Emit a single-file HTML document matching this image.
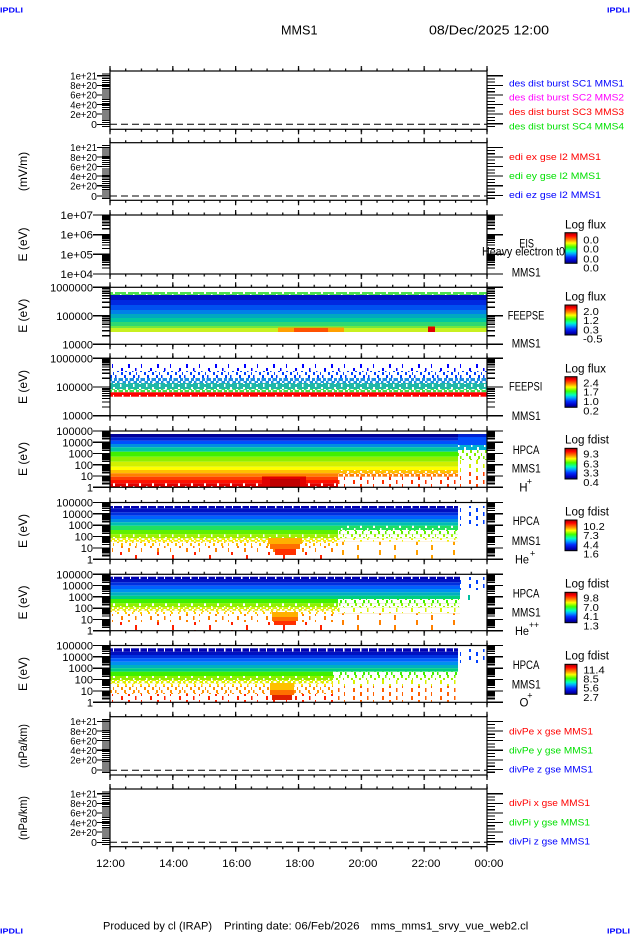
<!DOCTYPE html>
<html><head><meta charset="utf-8"><title>MMS1 summary</title>
<style>
html,body{margin:0;padding:0;background:#fff;}
svg{display:block;}
</style></head><body>
<svg width="630" height="934" viewBox="0 0 630 934" xmlns="http://www.w3.org/2000/svg" xmlns:xlink="http://www.w3.org/1999/xlink" font-family="'Liberation Sans', sans-serif">
<defs>
<pattern id="tmin" x="109.4" y="0" width="15.708" height="10" patternUnits="userSpaceOnUse"><rect x="0" y="0" width="1.2" height="10" fill="#000"/></pattern>
<pattern id="tmaj" x="109.4" y="0" width="62.833" height="10" patternUnits="userSpaceOnUse"><rect x="0" y="0" width="1.2" height="10" fill="#000"/></pattern>
<pattern id="sp1" width="23" height="9" patternUnits="userSpaceOnUse"><path fill="#fff" d="M0 0h2v3h-2zM4 0h6v3h-6zM12 0h5v3h-5zM18.5 0h4.5v3h-4.5zM0 3h6v3h-6zM8 3h6v3h-6zM16 3h5v3h-5zM22 3h1v3h-1zM1.5 6h7.5v3h-7.5zM11 6h7v3h-7zM20 6h3v3h-3z"/></pattern>
<pattern id="sp2" width="29" height="8" patternUnits="userSpaceOnUse"><path fill="#fff" d="M0 0h5v4h-5zM7 0h12v4h-12zM20.5 0h8.5v4h-8.5zM0 4h12v4h-12zM14 4h11v4h-11zM26 4h3v4h-3z"/></pattern>
<pattern id="sp4" width="37" height="10" patternUnits="userSpaceOnUse"><path fill="#fff" d="M0 0h9v5h-9zM11 0h26v5h-26zM0 5h24v5h-24zM26 5h11v5h-11z"/></pattern>
<pattern id="gap" width="13" height="6" patternUnits="userSpaceOnUse"><path fill="#fff" d="M3 0h1.5v3h-1.5zM9 3h2v3h-2z"/></pattern>
<pattern id="half" width="11" height="6" patternUnits="userSpaceOnUse"><path fill="#fff" d="M2 0h2v3h-2zM7 0h1.5v3h-1.5zM0 3h1.5v3h-1.5zM5 3h2v3h-2zM9.5 3h1.5v3h-1.5z"/></pattern>
<pattern id="notch" width="17" height="4" patternUnits="userSpaceOnUse"><path fill="#fff" d="M3 0h1.5v4h-1.5zM11 0h1v4h-1z"/></pattern>
<linearGradient id="cb" x1="0" y1="0" x2="0" y2="1">
<stop offset="0" stop-color="#a00000"/>
<stop offset="0.1" stop-color="#ff0000"/>
<stop offset="0.24" stop-color="#ff8c00"/>
<stop offset="0.34" stop-color="#ffff00"/>
<stop offset="0.47" stop-color="#40ff00"/>
<stop offset="0.6" stop-color="#00ffc0"/>
<stop offset="0.68" stop-color="#00b0ff"/>
<stop offset="0.8" stop-color="#0030ff"/>
<stop offset="0.92" stop-color="#0000c0"/>
<stop offset="1" stop-color="#000070"/>
</linearGradient>
<path id="d20" d="M0 -5.92h8M0 -9.39h8M0 -11.84h8M0 -13.75h8M0 -15.31h8M0 -16.62h8M0 -17.76h8M0 -18.77h8"/>
<path id="d28" d="M0 -8.61h8M0 -13.65h8M0 -17.22h8M0 -19.99h8M0 -22.26h8M0 -24.17h8M0 -25.83h8M0 -27.29h8"/>
<path id="d11" d="M0 -3.40h8M0 -5.39h8M0 -6.80h8M0 -7.90h8M0 -8.79h8M0 -9.55h8M0 -10.20h8M0 -10.78h8"/>
<path id="linL" d="M102 3h8M102 5.1h8M102 7.2h8M102 9.3h8M102 11.4h8M102 13.5h8M102 15.6h8M102 17.7h8M102 19.8h8M102 21.9h8M102 24h8M102 26.1h8M102 28.2h8M102 30.3h8M102 32.4h8M102 34.5h8M102 36.6h8M102 38.7h8M102 40.8h8M102 42.9h8M102 45h8M102 47.1h8M102 49.2h8M102 51.3h8M102 55.5h8M97 4.7h13M97 14.3h13M97 23.9h13M97 33.5h13M97 43.1h13M97 53.3h13"/>
<path id="linR" d="M487 4.7h16M487 14.3h16M487 23.9h16M487 33.5h16M487 43.1h16M487 52.7h16M487 7.9h8M487 11.1h8M487 17.5h8M487 20.7h8M487 27.1h8M487 30.3h8M487 36.7h8M487 39.9h8M487 46.3h8M487 49.5h8M487 55.5h8"/>
</defs>

<!-- header -->
<text x="0" y="12.5" font-size="7.5" font-weight="bold" fill="#0000ff" textLength="23" lengthAdjust="spacingAndGlyphs">IPDLI</text>
<text x="607" y="12.5" font-size="7.5" font-weight="bold" fill="#0000ff" textLength="23" lengthAdjust="spacingAndGlyphs">IPDLI</text>
<text x="281" y="34.3" font-size="12.7" textLength="36.5" lengthAdjust="spacingAndGlyphs">MMS1</text>
<text x="429" y="34.3" font-size="12.7" textLength="120" lengthAdjust="spacingAndGlyphs">08/Dec/2025 12:00</text>

<!-- ===== Spectrogram data ===== -->
<!-- FEEPSE -->
<g>
<rect x="110.5" y="292" width="376.5" height="3" fill="#50e050"/>
<rect x="110.5" y="292" width="376.5" height="3" fill="url(#gap)"/>
<rect x="110.5" y="295" width="376.5" height="5" fill="#0010c0"/>
<rect x="110.5" y="300" width="376.5" height="5" fill="#0028e0"/>
<rect x="110.5" y="305" width="376.5" height="5" fill="#0050f0"/>
<rect x="110.5" y="310" width="376.5" height="4" fill="#0080e8"/>
<rect x="110.5" y="314" width="376.5" height="4" fill="#00a8c0"/>
<rect x="110.5" y="318" width="376.5" height="4" fill="#00c8a0"/>
<rect x="110.5" y="322" width="376.5" height="4" fill="#30d870"/>
<rect x="110.5" y="326" width="376.5" height="2" fill="#70e840"/>
<rect x="110.5" y="328" width="376.5" height="4" fill="#c8f020"/>
<rect x="278" y="327.5" width="66" height="4.5" fill="#ffa000"/>
<rect x="294" y="328" width="34" height="4" fill="#ff5000"/>
<rect x="428" y="326.5" width="7" height="5.5" fill="#e00000"/>
</g>
<!-- FEEPSI -->
<g>
<rect x="110.5" y="364" width="376.5" height="7" fill="#0000ff"/>
<rect x="110.5" y="364" width="376.5" height="7" fill="url(#sp2)"/>
<rect x="110.5" y="371" width="376.5" height="7" fill="#0040ff"/>
<rect x="110.5" y="371" width="376.5" height="7" fill="url(#sp1)"/>
<rect x="110.5" y="378" width="376.5" height="5" fill="#2090e0"/>
<rect x="110.5" y="378" width="376.5" height="5" fill="url(#half)"/>
<rect x="110.5" y="383" width="376.5" height="6" fill="#20b8a8"/>
<rect x="110.5" y="383" width="376.5" height="6" fill="url(#gap)"/>
<rect x="110.5" y="389" width="376.5" height="3.3" fill="#40e050"/>
<rect x="110.5" y="389" width="376.5" height="3.3" fill="url(#half)"/>
<rect x="110.5" y="392.3" width="376.5" height="4.4" fill="#ff0000"/>
<rect x="110.5" y="395" width="376.5" height="1.7" fill="url(#notch)"/>
</g>
<!-- HPCA H+ -->
<g>
<rect x="110.5" y="434" width="347.5" height="3.3" fill="#000098"/>
<rect x="110.5" y="437.3" width="347.5" height="3.4" fill="#0020d0"/>
<rect x="110.5" y="440.7" width="347.5" height="3.3" fill="#0050ff"/>
<rect x="110.5" y="444" width="347.5" height="3.3" fill="#0090e0"/>
<rect x="110.5" y="447.3" width="347.5" height="4.4" fill="#00c8a0"/>
<rect x="110.5" y="451.7" width="347.5" height="5" fill="#40f000"/>
<rect x="110.5" y="456.7" width="347.5" height="5" fill="#90f000"/>
<rect x="110.5" y="461.7" width="347.5" height="5" fill="#d0f000"/>
<rect x="110.5" y="466.7" width="347.5" height="3.3" fill="#ffff00"/>
<rect x="110.5" y="470" width="347.5" height="3.3" fill="#ffc000"/>
<rect x="338" y="470" width="120" height="3.3" fill="url(#gap)"/>
<rect x="110.5" y="473.3" width="227.5" height="3.4" fill="#ff8000"/>
<rect x="110.5" y="476.7" width="227.5" height="3.3" fill="#ff4000"/>
<rect x="110.5" y="480" width="227.5" height="3.3" fill="#ff1000"/>
<rect x="110.5" y="483.3" width="227.5" height="3.7" fill="#e00000"/>
<rect x="110.5" y="483.3" width="227.5" height="3.7" fill="url(#gap)"/>
<rect x="338" y="473.3" width="120" height="3.4" fill="#ff8000"/>
<rect x="338" y="473.3" width="120" height="3.4" fill="url(#half)"/>
<rect x="338" y="476.7" width="120" height="10.3" fill="#ff3000"/>
<rect x="338" y="476.7" width="120" height="10.3" fill="url(#sp2)"/>
<rect x="262" y="476.5" width="44" height="10.5" fill="#e00000"/>
<rect x="270" y="479" width="30" height="8" fill="#c00000"/>
<rect x="458" y="434" width="29" height="3" fill="#0020d0"/>
<rect x="458" y="437" width="29" height="8" fill="#0050ff"/>
<rect x="458" y="445" width="29" height="5" fill="#00b0d0"/>
<rect x="458" y="445" width="29" height="5" fill="url(#gap)"/>
<rect x="458" y="450" width="29" height="10" fill="#80f000"/>
<rect x="458" y="450" width="29" height="10" fill="url(#sp1)"/>
<rect x="458" y="460" width="29" height="12" fill="#d0f000"/>
<rect x="458" y="460" width="29" height="12" fill="url(#sp2)"/>
<rect x="458" y="472" width="29" height="15" fill="#ff4000"/>
<rect x="458" y="472" width="29" height="15" fill="url(#sp2)"/>
</g>
<!-- HPCA He+ -->
<g>
<rect x="110.5" y="506" width="347.5" height="2.3" fill="#0000b0"/>
<rect x="110.5" y="506" width="347.5" height="2.3" fill="url(#notch)"/>
<rect x="110.5" y="508.3" width="347.5" height="4" fill="#0010c0"/>
<rect x="110.5" y="512.3" width="347.5" height="3.4" fill="#0030e0"/>
<rect x="110.5" y="515.7" width="347.5" height="3.3" fill="#0060ff"/>
<rect x="110.5" y="519" width="347.5" height="3.3" fill="#0090e0"/>
<rect x="110.5" y="522.3" width="347.5" height="3.4" fill="#00c0b0"/>
<rect x="110.5" y="525.7" width="347.5" height="4.3" fill="#20e060"/>
<rect x="338" y="525.7" width="120" height="4.3" fill="url(#gap)"/>
<rect x="110.5" y="530" width="227.5" height="4.3" fill="#60f000"/>
<rect x="110.5" y="534.3" width="227.5" height="4" fill="#a0f000"/>
<rect x="110.5" y="534.3" width="227.5" height="4" fill="url(#gap)"/>
<rect x="110.5" y="538.3" width="227.5" height="3.4" fill="#f0f000"/>
<rect x="110.5" y="538.3" width="227.5" height="3.4" fill="url(#half)"/>
<rect x="110.5" y="541.7" width="227.5" height="4.3" fill="#ffc000"/>
<rect x="110.5" y="541.7" width="227.5" height="4.3" fill="url(#sp1)"/>
<rect x="110.5" y="546" width="227.5" height="6" fill="#ff8000"/>
<rect x="110.5" y="546" width="227.5" height="6" fill="url(#sp2)"/>
<rect x="110.5" y="552" width="227.5" height="7" fill="#ff2000"/>
<rect x="110.5" y="552" width="227.5" height="7" fill="url(#sp4)"/>
<rect x="338" y="530" width="120" height="4.3" fill="#60f000"/>
<rect x="338" y="530" width="120" height="4.3" fill="url(#sp1)"/>
<rect x="338" y="534.3" width="120" height="4" fill="#a0f000"/>
<rect x="338" y="534.3" width="120" height="4" fill="url(#sp1)"/>
<rect x="338" y="538.3" width="120" height="3.4" fill="#f0f000"/>
<rect x="338" y="538.3" width="120" height="3.4" fill="url(#sp2)"/>
<rect x="338" y="541.7" width="120" height="17" fill="#ffa000"/>
<rect x="338" y="541.7" width="120" height="17" fill="url(#sp4)"/>
<rect x="268" y="538" width="34" height="6" fill="#ffb000"/>
<rect x="270" y="544" width="30" height="5" fill="#ff7000"/>
<rect x="275" y="549" width="21" height="6" fill="#ff3000"/>
<rect x="458" y="506" width="29" height="20" fill="#0040ff"/>
<rect x="458" y="506" width="29" height="20" fill="url(#sp2)"/>
</g>
<!-- HPCA He++ -->
<g>
<rect x="110.5" y="576.7" width="349.5" height="2.3" fill="#0000b0"/>
<rect x="110.5" y="576.7" width="349.5" height="2.3" fill="url(#notch)"/>
<rect x="110.5" y="579" width="349.5" height="3.3" fill="#0010c0"/>
<rect x="110.5" y="582.3" width="349.5" height="3.4" fill="#0030e0"/>
<rect x="110.5" y="585.7" width="349.5" height="3.3" fill="#0060ff"/>
<rect x="110.5" y="589" width="349.5" height="3.3" fill="#0090f0"/>
<rect x="110.5" y="592.3" width="349.5" height="3.4" fill="#00b0c0"/>
<rect x="110.5" y="595.7" width="349.5" height="3.3" fill="#00d080"/>
<rect x="110.5" y="599" width="227.5" height="4.3" fill="#40f000"/>
<rect x="110.5" y="603.3" width="227.5" height="4" fill="#90f000"/>
<rect x="110.5" y="603.3" width="227.5" height="4" fill="url(#gap)"/>
<rect x="110.5" y="607.3" width="227.5" height="3.4" fill="#d8f000"/>
<rect x="110.5" y="607.3" width="227.5" height="3.4" fill="url(#half)"/>
<rect x="110.5" y="610.7" width="227.5" height="3.3" fill="#ffd000"/>
<rect x="110.5" y="610.7" width="227.5" height="3.3" fill="url(#sp1)"/>
<rect x="110.5" y="614" width="227.5" height="8" fill="#ff8000"/>
<rect x="110.5" y="614" width="227.5" height="8" fill="url(#sp2)"/>
<rect x="110.5" y="622" width="227.5" height="8.5" fill="#ff2000"/>
<rect x="110.5" y="622" width="227.5" height="8.5" fill="url(#sp4)"/>
<rect x="338" y="599" width="122" height="4.3" fill="#40f000"/>
<rect x="338" y="599" width="122" height="4.3" fill="url(#sp1)"/>
<rect x="338" y="603.3" width="122" height="4" fill="#90f000"/>
<rect x="338" y="603.3" width="122" height="4" fill="url(#sp1)"/>
<rect x="338" y="607.3" width="122" height="6" fill="#d8f000"/>
<rect x="338" y="607.3" width="122" height="6" fill="url(#sp2)"/>
<rect x="338" y="613.3" width="122" height="17" fill="#ff8000"/>
<rect x="338" y="613.3" width="122" height="17" fill="url(#sp4)"/>
<rect x="272" y="612" width="26" height="5" fill="#ffb000"/>
<rect x="272" y="617" width="26" height="4" fill="#ff7000"/>
<rect x="274" y="621" width="22" height="4" fill="#ff3000"/>
<rect x="460" y="577" width="27" height="13" fill="#0040ff"/>
<rect x="460" y="577" width="27" height="13" fill="url(#sp2)"/>
<rect x="460" y="590" width="27" height="12" fill="#00c0a0"/>
<rect x="460" y="590" width="27" height="12" fill="url(#sp4)"/>
</g>
<!-- HPCA O+ -->
<g>
<rect x="110.5" y="648.3" width="347.5" height="3.4" fill="#0000b0"/>
<rect x="110.5" y="648.3" width="347.5" height="3.4" fill="url(#notch)"/>
<rect x="110.5" y="651.7" width="347.5" height="3.3" fill="#0010c0"/>
<rect x="110.5" y="655" width="347.5" height="3.3" fill="#0030e0"/>
<rect x="110.5" y="658.3" width="347.5" height="3.4" fill="#0060ff"/>
<rect x="110.5" y="661.7" width="347.5" height="3.3" fill="#0090f0"/>
<rect x="110.5" y="665" width="347.5" height="3.3" fill="#00b0c0"/>
<rect x="110.5" y="668.3" width="347.5" height="3.4" fill="#00d080"/>
<rect x="110.5" y="671.7" width="222.5" height="4.3" fill="#40f000"/>
<rect x="110.5" y="676" width="222.5" height="4" fill="#90f000"/>
<rect x="110.5" y="676" width="222.5" height="4" fill="url(#gap)"/>
<rect x="110.5" y="680" width="222.5" height="3.3" fill="#d8f000"/>
<rect x="110.5" y="680" width="222.5" height="3.3" fill="url(#half)"/>
<rect x="110.5" y="683.3" width="222.5" height="2.7" fill="#ffe000"/>
<rect x="110.5" y="683.3" width="222.5" height="2.7" fill="url(#sp1)"/>
<rect x="110.5" y="686" width="222.5" height="8" fill="#ff9000"/>
<rect x="110.5" y="686" width="222.5" height="8" fill="url(#sp1)"/>
<rect x="110.5" y="694" width="222.5" height="8.3" fill="#ff2000"/>
<rect x="110.5" y="694" width="222.5" height="8.3" fill="url(#sp2)"/>
<rect x="333" y="671.7" width="125" height="4.3" fill="#40f000"/>
<rect x="333" y="671.7" width="125" height="4.3" fill="url(#sp1)"/>
<rect x="333" y="676" width="125" height="4" fill="#90f000"/>
<rect x="333" y="676" width="125" height="4" fill="url(#sp1)"/>
<rect x="333" y="680" width="125" height="6" fill="#d8f000"/>
<rect x="333" y="680" width="125" height="6" fill="url(#sp2)"/>
<rect x="333" y="686" width="125" height="16" fill="#ff6000"/>
<rect x="333" y="686" width="125" height="16" fill="url(#sp2)"/>
<rect x="270" y="683" width="24" height="7" fill="#ffc000"/>
<rect x="270" y="690" width="24" height="5" fill="#ff7000"/>
<rect x="272" y="695" width="20" height="5" fill="#e02000"/>
<rect x="458" y="649" width="29" height="14" fill="#0040ff"/>
<rect x="458" y="649" width="29" height="14" fill="url(#sp2)"/>
</g>

<!-- ===== Frames ===== -->
<g fill="none" stroke="#000" stroke-width="1.2">
<rect x="110" y="71" width="377" height="58.3"/>
<rect x="110" y="142.7" width="377" height="57.6"/>
<rect x="110" y="215" width="377" height="59"/>
<rect x="110" y="287.3" width="377" height="57"/>
<rect x="110" y="358.3" width="377" height="57.4"/>
<rect x="110" y="431" width="377" height="56.3"/>
<rect x="110" y="502.5" width="377" height="56.8"/>
<rect x="110" y="574.3" width="377" height="56.4"/>
<rect x="110" y="645.5" width="377" height="56.8"/>
<rect x="110" y="716.7" width="377" height="58.3"/>
<rect x="110" y="789" width="377" height="57.7"/>
</g>
<!-- dashed zero lines -->
<g stroke="#000" stroke-width="1" stroke-dasharray="7 4">
<line x1="110" y1="124.3" x2="487" y2="124.3"/>
<line x1="110" y1="196" x2="487" y2="196"/>
<line x1="110" y1="770.3" x2="487" y2="770.3"/>
<line x1="110" y1="842.3" x2="487" y2="842.3"/>
</g>

<!-- time ticks -->
<path fill="url(#tmin)" d="M109 68.5h379v2.5h-379zM109 129.3h379v2.5h-379zM109 140.2h379v2.5h-379zM109 200.3h379v2.5h-379zM109 212.5h379v2.5h-379zM109 274h379v2.5h-379zM109 284.8h379v2.5h-379zM109 344.3h379v2.5h-379zM109 355.8h379v2.5h-379zM109 415.7h379v2.5h-379zM109 428.5h379v2.5h-379zM109 487.3h379v2.5h-379zM109 500h379v2.5h-379zM109 559.3h379v2.5h-379zM109 571.8h379v2.5h-379zM109 630.7h379v2.5h-379zM109 643h379v2.5h-379zM109 702.3h379v2.5h-379zM109 714.2h379v2.5h-379zM109 775h379v2.5h-379zM109 786.5h379v2.5h-379zM109 846.7h379v2.5h-379z"/>
<path fill="url(#tmaj)" d="M109 66h379v5h-379zM109 129.3h379v5h-379zM109 137.7h379v5h-379zM109 200.3h379v5h-379zM109 210h379v5h-379zM109 274h379v5h-379zM109 282.3h379v5h-379zM109 344.3h379v5h-379zM109 353.3h379v5h-379zM109 415.7h379v5h-379zM109 426h379v5h-379zM109 487.3h379v5h-379zM109 497.5h379v5h-379zM109 559.3h379v5h-379zM109 569.3h379v5h-379zM109 630.7h379v5h-379zM109 640.5h379v5h-379zM109 702.3h379v5h-379zM109 711.7h379v5h-379zM109 775h379v5h-379zM109 784h379v5h-379zM109 846.7h379v5h-379z"/>

<!-- y-axis ticks -->
<g stroke="#000" stroke-width="1.1" fill="none" shape-rendering="crispEdges">
<use xlink:href="#linL" transform="translate(0,71)"/>
<use xlink:href="#linR" transform="translate(0,71)"/>
<use xlink:href="#linL" transform="translate(0,142.7)"/>
<use xlink:href="#linR" transform="translate(0,142.7)"/>
<use xlink:href="#linL" transform="translate(0,716.7)"/>
<use xlink:href="#linR" transform="translate(0,716.7)"/>
<use xlink:href="#linL" transform="translate(0,789)"/>
<use xlink:href="#linR" transform="translate(0,789)"/>
</g>
<g stroke="#000" stroke-width="1.3" fill="none" shape-rendering="crispEdges">
<use xlink:href="#d20" transform="translate(102,234.67)"/><use xlink:href="#d20" transform="translate(102,254.33)"/><use xlink:href="#d20" transform="translate(102,274)"/>
<use xlink:href="#d20" transform="translate(487,234.67)"/><use xlink:href="#d20" transform="translate(487,254.33)"/><use xlink:href="#d20" transform="translate(487,274)"/>
<path d="M93 215h17M93 234.67h17M93 254.33h17M93 274h17M487 215h16M487 234.67h16M487 254.33h16M487 274h16"/>
<use xlink:href="#d28" transform="translate(102,315.8)"/><use xlink:href="#d28" transform="translate(102,344.3)"/>
<use xlink:href="#d28" transform="translate(487,315.8)"/><use xlink:href="#d28" transform="translate(487,344.3)"/>
<path d="M93 287.3h17M93 315.8h17M93 344.3h17M487 287.3h16M487 315.8h16M487 344.3h16"/>
<use xlink:href="#d28" transform="translate(102,387)"/><use xlink:href="#d28" transform="translate(102,415.7)"/>
<use xlink:href="#d28" transform="translate(487,387)"/><use xlink:href="#d28" transform="translate(487,415.7)"/>
<path d="M93 358.3h17M93 387h17M93 415.7h17M487 358.3h16M487 387h16M487 415.7h16"/>
<use xlink:href="#d11" transform="translate(102,442.26)"/><use xlink:href="#d11" transform="translate(102,453.52)"/><use xlink:href="#d11" transform="translate(102,464.78)"/><use xlink:href="#d11" transform="translate(102,476.04)"/><use xlink:href="#d11" transform="translate(102,487.3)"/>
<use xlink:href="#d11" transform="translate(487,442.26)"/><use xlink:href="#d11" transform="translate(487,453.52)"/><use xlink:href="#d11" transform="translate(487,464.78)"/><use xlink:href="#d11" transform="translate(487,476.04)"/><use xlink:href="#d11" transform="translate(487,487.3)"/>
<path d="M93 431h17M93 442.26h17M93 453.52h17M93 464.78h17M93 476.04h17M93 487.3h17M487 431h16M487 442.26h16M487 453.52h16M487 464.78h16M487 476.04h16M487 487.3h16"/>
<use xlink:href="#d11" transform="translate(102,513.86)"/><use xlink:href="#d11" transform="translate(102,525.22)"/><use xlink:href="#d11" transform="translate(102,536.58)"/><use xlink:href="#d11" transform="translate(102,547.94)"/><use xlink:href="#d11" transform="translate(102,559.3)"/>
<use xlink:href="#d11" transform="translate(487,513.86)"/><use xlink:href="#d11" transform="translate(487,525.22)"/><use xlink:href="#d11" transform="translate(487,536.58)"/><use xlink:href="#d11" transform="translate(487,547.94)"/><use xlink:href="#d11" transform="translate(487,559.3)"/>
<path d="M93 502.5h17M93 513.86h17M93 525.22h17M93 536.58h17M93 547.94h17M93 559.3h17M487 502.5h16M487 513.86h16M487 525.22h16M487 536.58h16M487 547.94h16M487 559.3h16"/>
<use xlink:href="#d11" transform="translate(102,585.58)"/><use xlink:href="#d11" transform="translate(102,596.86)"/><use xlink:href="#d11" transform="translate(102,608.14)"/><use xlink:href="#d11" transform="translate(102,619.42)"/><use xlink:href="#d11" transform="translate(102,630.7)"/>
<use xlink:href="#d11" transform="translate(487,585.58)"/><use xlink:href="#d11" transform="translate(487,596.86)"/><use xlink:href="#d11" transform="translate(487,608.14)"/><use xlink:href="#d11" transform="translate(487,619.42)"/><use xlink:href="#d11" transform="translate(487,630.7)"/>
<path d="M93 574.3h17M93 585.58h17M93 596.86h17M93 608.14h17M93 619.42h17M93 630.7h17M487 574.3h16M487 585.58h16M487 596.86h16M487 608.14h16M487 619.42h16M487 630.7h16"/>
<use xlink:href="#d11" transform="translate(102,656.86)"/><use xlink:href="#d11" transform="translate(102,668.22)"/><use xlink:href="#d11" transform="translate(102,679.58)"/><use xlink:href="#d11" transform="translate(102,690.94)"/><use xlink:href="#d11" transform="translate(102,702.3)"/>
<use xlink:href="#d11" transform="translate(487,656.86)"/><use xlink:href="#d11" transform="translate(487,668.22)"/><use xlink:href="#d11" transform="translate(487,679.58)"/><use xlink:href="#d11" transform="translate(487,690.94)"/><use xlink:href="#d11" transform="translate(487,702.3)"/>
<path d="M93 645.5h17M93 656.86h17M93 668.22h17M93 679.58h17M93 690.94h17M93 702.3h17M487 645.5h16M487 656.86h16M487 668.22h16M487 679.58h16M487 690.94h16M487 702.3h16"/>
</g>

<!-- y tick labels: linear panels -->
<g font-size="10.5" text-anchor="end" fill="#000">
<text x="97" y="79.5" textLength="26.7" lengthAdjust="spacingAndGlyphs">1e+21</text>
<text x="97" y="89.1" textLength="26.7" lengthAdjust="spacingAndGlyphs">8e+20</text>
<text x="97" y="98.7" textLength="26.7" lengthAdjust="spacingAndGlyphs">6e+20</text>
<text x="97" y="108.3" textLength="26.7" lengthAdjust="spacingAndGlyphs">4e+20</text>
<text x="97" y="117.9" textLength="26.7" lengthAdjust="spacingAndGlyphs">2e+20</text>
<text x="97" y="128.1">0</text>
<text x="97" y="151.2" textLength="26.7" lengthAdjust="spacingAndGlyphs">1e+21</text>
<text x="97" y="160.8" textLength="26.7" lengthAdjust="spacingAndGlyphs">8e+20</text>
<text x="97" y="170.4" textLength="26.7" lengthAdjust="spacingAndGlyphs">6e+20</text>
<text x="97" y="180" textLength="26.7" lengthAdjust="spacingAndGlyphs">4e+20</text>
<text x="97" y="189.6" textLength="26.7" lengthAdjust="spacingAndGlyphs">2e+20</text>
<text x="97" y="199.8">0</text>
<text x="97" y="725.2" textLength="26.7" lengthAdjust="spacingAndGlyphs">1e+21</text>
<text x="97" y="734.8" textLength="26.7" lengthAdjust="spacingAndGlyphs">8e+20</text>
<text x="97" y="744.4" textLength="26.7" lengthAdjust="spacingAndGlyphs">6e+20</text>
<text x="97" y="754" textLength="26.7" lengthAdjust="spacingAndGlyphs">4e+20</text>
<text x="97" y="763.6" textLength="26.7" lengthAdjust="spacingAndGlyphs">2e+20</text>
<text x="97" y="774.1">0</text>
<text x="97" y="797.5" textLength="26.7" lengthAdjust="spacingAndGlyphs">1e+21</text>
<text x="97" y="807.1" textLength="26.7" lengthAdjust="spacingAndGlyphs">8e+20</text>
<text x="97" y="816.7" textLength="26.7" lengthAdjust="spacingAndGlyphs">6e+20</text>
<text x="97" y="826.3" textLength="26.7" lengthAdjust="spacingAndGlyphs">4e+20</text>
<text x="97" y="835.9" textLength="26.7" lengthAdjust="spacingAndGlyphs">2e+20</text>
<text x="97" y="846.1">0</text>
</g>
<!-- y tick labels: log panels -->
<g font-size="11" text-anchor="end" fill="#000">
<text x="93" y="219" textLength="32.6" lengthAdjust="spacingAndGlyphs">1e+07</text>
<text x="93" y="238.7" textLength="32.6" lengthAdjust="spacingAndGlyphs">1e+06</text>
<text x="93" y="258.3" textLength="32.6" lengthAdjust="spacingAndGlyphs">1e+05</text>
<text x="93" y="278" textLength="32.6" lengthAdjust="spacingAndGlyphs">1e+04</text>
<text x="93" y="291.3">1000000</text>
<text x="93" y="319.8">100000</text>
<text x="93" y="348.3">10000</text>
<text x="93" y="362.3">1000000</text>
<text x="93" y="391">100000</text>
<text x="93" y="419.7">10000</text>
<text x="93" y="435">100000</text><text x="93" y="446.3">10000</text><text x="93" y="457.5">1000</text><text x="93" y="468.8">100</text><text x="93" y="480">10</text><text x="93" y="491.3">1</text>
<text x="93" y="506.5">100000</text><text x="93" y="517.9">10000</text><text x="93" y="529.2">1000</text><text x="93" y="540.6">100</text><text x="93" y="551.9">10</text><text x="93" y="563.3">1</text>
<text x="93" y="578.3">100000</text><text x="93" y="589.6">10000</text><text x="93" y="600.9">1000</text><text x="93" y="612.1">100</text><text x="93" y="623.4">10</text><text x="93" y="634.7">1</text>
<text x="93" y="649.5">100000</text><text x="93" y="660.9">10000</text><text x="93" y="672.2">1000</text><text x="93" y="683.6">100</text><text x="93" y="694.9">10</text><text x="93" y="706.3">1</text>
</g>

<!-- y-axis titles -->
<g font-size="12" text-anchor="middle" fill="#000">
<text transform="translate(27,171.5) rotate(-90)">(mV/m)</text>
<text transform="translate(27,244.5) rotate(-90)">E (eV)</text>
<text transform="translate(27,315.8) rotate(-90)">E (eV)</text>
<text transform="translate(27,387) rotate(-90)">E (eV)</text>
<text transform="translate(27,459) rotate(-90)">E (eV)</text>
<text transform="translate(27,531) rotate(-90)">E (eV)</text>
<text transform="translate(27,602.5) rotate(-90)">E (eV)</text>
<text transform="translate(27,674) rotate(-90)">E (eV)</text>
<text transform="translate(27,746) rotate(-90)" textLength="44" lengthAdjust="spacingAndGlyphs">(nPa/km)</text>
<text transform="translate(27,818) rotate(-90)" textLength="44" lengthAdjust="spacingAndGlyphs">(nPa/km)</text>
</g>

<!-- legends, linear panels -->
<g font-size="9.5">
<text x="509" y="86.7" fill="#0000ff" textLength="115" lengthAdjust="spacingAndGlyphs">des dist burst SC1 MMS1</text>
<text x="509" y="100.3" fill="#ff00ff" textLength="115" lengthAdjust="spacingAndGlyphs">des dist burst SC2 MMS2</text>
<text x="509" y="115" fill="#ff0000" textLength="115" lengthAdjust="spacingAndGlyphs">des dist burst SC3 MMS3</text>
<text x="509" y="129.3" fill="#00e000" textLength="115" lengthAdjust="spacingAndGlyphs">des dist burst SC4 MMS4</text>
<text x="509" y="160" fill="#ff0000" textLength="92" lengthAdjust="spacingAndGlyphs">edi ex gse l2 MMS1</text>
<text x="509" y="179" fill="#00e000" textLength="92" lengthAdjust="spacingAndGlyphs">edi ey gse l2 MMS1</text>
<text x="509" y="198" fill="#0000ff" textLength="92" lengthAdjust="spacingAndGlyphs">edi ez gse l2 MMS1</text>
<text x="509" y="734.3" fill="#ff0000" textLength="84" lengthAdjust="spacingAndGlyphs">divPe x gse MMS1</text>
<text x="509" y="753.3" fill="#00e000" textLength="84" lengthAdjust="spacingAndGlyphs">divPe y gse MMS1</text>
<text x="509" y="772.3" fill="#0000ff" textLength="84" lengthAdjust="spacingAndGlyphs">divPe z gse MMS1</text>
<text x="509" y="806" fill="#ff0000" textLength="81" lengthAdjust="spacingAndGlyphs">divPi x gse MMS1</text>
<text x="509" y="825.3" fill="#00e000" textLength="81" lengthAdjust="spacingAndGlyphs">divPi y gse MMS1</text>
<text x="509" y="844.3" fill="#0000ff" textLength="81" lengthAdjust="spacingAndGlyphs">divPi z gse MMS1</text>
</g>

<!-- right labels spectrograms -->
<g font-size="11.5" fill="#000">
<text x="482" y="255.5" textLength="83" lengthAdjust="spacingAndGlyphs">Heavy electron t0</text>
<text x="519.3" y="247.7" textLength="14.7" lengthAdjust="spacingAndGlyphs">EIS</text>
<text x="511.7" y="276.7" textLength="29" lengthAdjust="spacingAndGlyphs">MMS1</text>
<text x="507.7" y="319.3" textLength="36.6" lengthAdjust="spacingAndGlyphs">FEEPSE</text>
<text x="511.7" y="347.5" textLength="29" lengthAdjust="spacingAndGlyphs">MMS1</text>
<text x="509" y="390.7" textLength="33.3" lengthAdjust="spacingAndGlyphs">FEEPSI</text>
<text x="511.7" y="420" textLength="29" lengthAdjust="spacingAndGlyphs">MMS1</text>
<text x="512.7" y="454" textLength="26.7" lengthAdjust="spacingAndGlyphs">HPCA</text>
<text x="511.7" y="472.7" textLength="29" lengthAdjust="spacingAndGlyphs">MMS1</text>
<text x="519.3" y="491.7">H</text><text x="526.7" y="484.5" font-size="9">+</text>
<text x="512.7" y="525" textLength="26.7" lengthAdjust="spacingAndGlyphs">HPCA</text>
<text x="511.7" y="545" textLength="29" lengthAdjust="spacingAndGlyphs">MMS1</text>
<text x="515" y="563.3" textLength="14" lengthAdjust="spacingAndGlyphs">He</text><text x="530" y="556.3" font-size="9">+</text>
<text x="512.7" y="597.3" textLength="26.7" lengthAdjust="spacingAndGlyphs">HPCA</text>
<text x="511.7" y="616.7" textLength="29" lengthAdjust="spacingAndGlyphs">MMS1</text>
<text x="515" y="635" textLength="14" lengthAdjust="spacingAndGlyphs">He</text><text x="529" y="628" font-size="9" textLength="10" lengthAdjust="spacingAndGlyphs">++</text>
<text x="512.7" y="669" textLength="26.7" lengthAdjust="spacingAndGlyphs">HPCA</text>
<text x="511.7" y="688.3" textLength="29" lengthAdjust="spacingAndGlyphs">MMS1</text>
<text x="519.5" y="706.7">O</text><text x="527.3" y="698.5" font-size="9">+</text>
</g>

<!-- colorbars -->
<g stroke="#000" stroke-width="1" fill="url(#cb)">
<rect x="565" y="232.7" width="12" height="30.6"/>
<rect x="565" y="305" width="12" height="30"/>
<rect x="565" y="376.7" width="12" height="30.6"/>
<rect x="565" y="448.3" width="12" height="30.7"/>
<rect x="565" y="520" width="12" height="30.7"/>
<rect x="565" y="592.3" width="12" height="30.4"/>
<rect x="565" y="664.3" width="12" height="30"/>
</g>
<g font-size="11.5" fill="#000">
<text x="565" y="228.3" textLength="41" lengthAdjust="spacingAndGlyphs">Log flux</text>
<text x="565" y="300.5" textLength="41" lengthAdjust="spacingAndGlyphs">Log flux</text>
<text x="565" y="372.3" textLength="41" lengthAdjust="spacingAndGlyphs">Log flux</text>
<text x="565" y="443.7" textLength="44" lengthAdjust="spacingAndGlyphs">Log fdist</text>
<text x="565" y="515.3" textLength="44" lengthAdjust="spacingAndGlyphs">Log fdist</text>
<text x="565" y="587.3" textLength="44" lengthAdjust="spacingAndGlyphs">Log fdist</text>
<text x="565" y="659.3" textLength="44" lengthAdjust="spacingAndGlyphs">Log fdist</text>
</g>
<g font-size="10.5" fill="#000">
<text x="583.3" y="243.3" textLength="15.5" lengthAdjust="spacingAndGlyphs">0.0</text>
<text x="583.3" y="252.3" textLength="15.5" lengthAdjust="spacingAndGlyphs">0.0</text>
<text x="583.3" y="262.3" textLength="15.5" lengthAdjust="spacingAndGlyphs">0.0</text>
<text x="583.3" y="271.3" textLength="15.5" lengthAdjust="spacingAndGlyphs">0.0</text>
<text x="583.3" y="315" textLength="15.5" lengthAdjust="spacingAndGlyphs">2.0</text>
<text x="583.3" y="324" textLength="15.5" lengthAdjust="spacingAndGlyphs">1.2</text>
<text x="583.3" y="333.3" textLength="15.5" lengthAdjust="spacingAndGlyphs">0.3</text>
<text x="583" y="342.7" textLength="19.5" lengthAdjust="spacingAndGlyphs">-0.5</text>
<text x="583.3" y="386.7" textLength="15.5" lengthAdjust="spacingAndGlyphs">2.4</text>
<text x="583.3" y="395.7" textLength="15.5" lengthAdjust="spacingAndGlyphs">1.7</text>
<text x="583.3" y="405" textLength="15.5" lengthAdjust="spacingAndGlyphs">1.0</text>
<text x="583.3" y="414.3" textLength="15.5" lengthAdjust="spacingAndGlyphs">0.2</text>
<text x="583.3" y="457.7" textLength="15.5" lengthAdjust="spacingAndGlyphs">9.3</text>
<text x="583.3" y="467.3" textLength="15.5" lengthAdjust="spacingAndGlyphs">6.3</text>
<text x="583.3" y="476.7" textLength="15.5" lengthAdjust="spacingAndGlyphs">3.3</text>
<text x="583.3" y="486" textLength="15.5" lengthAdjust="spacingAndGlyphs">0.4</text>
<text x="583.3" y="530" textLength="21.5" lengthAdjust="spacingAndGlyphs">10.2</text>
<text x="583.3" y="539" textLength="15.5" lengthAdjust="spacingAndGlyphs">7.3</text>
<text x="583.3" y="548.3" textLength="15.5" lengthAdjust="spacingAndGlyphs">4.4</text>
<text x="583.3" y="557.7" textLength="15.5" lengthAdjust="spacingAndGlyphs">1.6</text>
<text x="583.3" y="601.7" textLength="15.5" lengthAdjust="spacingAndGlyphs">9.8</text>
<text x="583.3" y="611" textLength="15.5" lengthAdjust="spacingAndGlyphs">7.0</text>
<text x="583.3" y="620" textLength="15.5" lengthAdjust="spacingAndGlyphs">4.1</text>
<text x="583.3" y="629.3" textLength="15.5" lengthAdjust="spacingAndGlyphs">1.3</text>
<text x="583.3" y="673.3" textLength="21.5" lengthAdjust="spacingAndGlyphs">11.4</text>
<text x="583.3" y="682.7" textLength="15.5" lengthAdjust="spacingAndGlyphs">8.5</text>
<text x="583.3" y="691.7" textLength="15.5" lengthAdjust="spacingAndGlyphs">5.6</text>
<text x="583.3" y="701" textLength="15.5" lengthAdjust="spacingAndGlyphs">2.7</text>
</g>

<!-- time labels -->
<g font-size="11" text-anchor="middle" fill="#000">
<text x="110.5" y="867" textLength="29" lengthAdjust="spacingAndGlyphs">12:00</text>
<text x="173.6" y="867" textLength="29" lengthAdjust="spacingAndGlyphs">14:00</text>
<text x="236.7" y="867" textLength="29" lengthAdjust="spacingAndGlyphs">16:00</text>
<text x="299.8" y="867" textLength="29" lengthAdjust="spacingAndGlyphs">18:00</text>
<text x="362.9" y="867" textLength="29" lengthAdjust="spacingAndGlyphs">20:00</text>
<text x="426" y="867" textLength="29" lengthAdjust="spacingAndGlyphs">22:00</text>
<text x="489" y="867" textLength="29" lengthAdjust="spacingAndGlyphs">00:00</text>
</g>

<!-- footer -->
<g font-size="11" fill="#000">
<text x="103" y="929.7" textLength="109" lengthAdjust="spacingAndGlyphs">Produced by cl (IRAP)</text>
<text x="224" y="929.7" textLength="135.5" lengthAdjust="spacingAndGlyphs">Printing date: 06/Feb/2026</text>
<text x="370.8" y="929.7" textLength="157.5" lengthAdjust="spacingAndGlyphs">mms_mms1_srvy_vue_web2.cl</text>
</g>
<text x="0" y="933.5" font-size="7.5" font-weight="bold" fill="#0000ff" textLength="23" lengthAdjust="spacingAndGlyphs">IPDLI</text>
<text x="607" y="933.5" font-size="7.5" font-weight="bold" fill="#0000ff" textLength="23" lengthAdjust="spacingAndGlyphs">IPDLI</text>
</svg>
</body></html>
